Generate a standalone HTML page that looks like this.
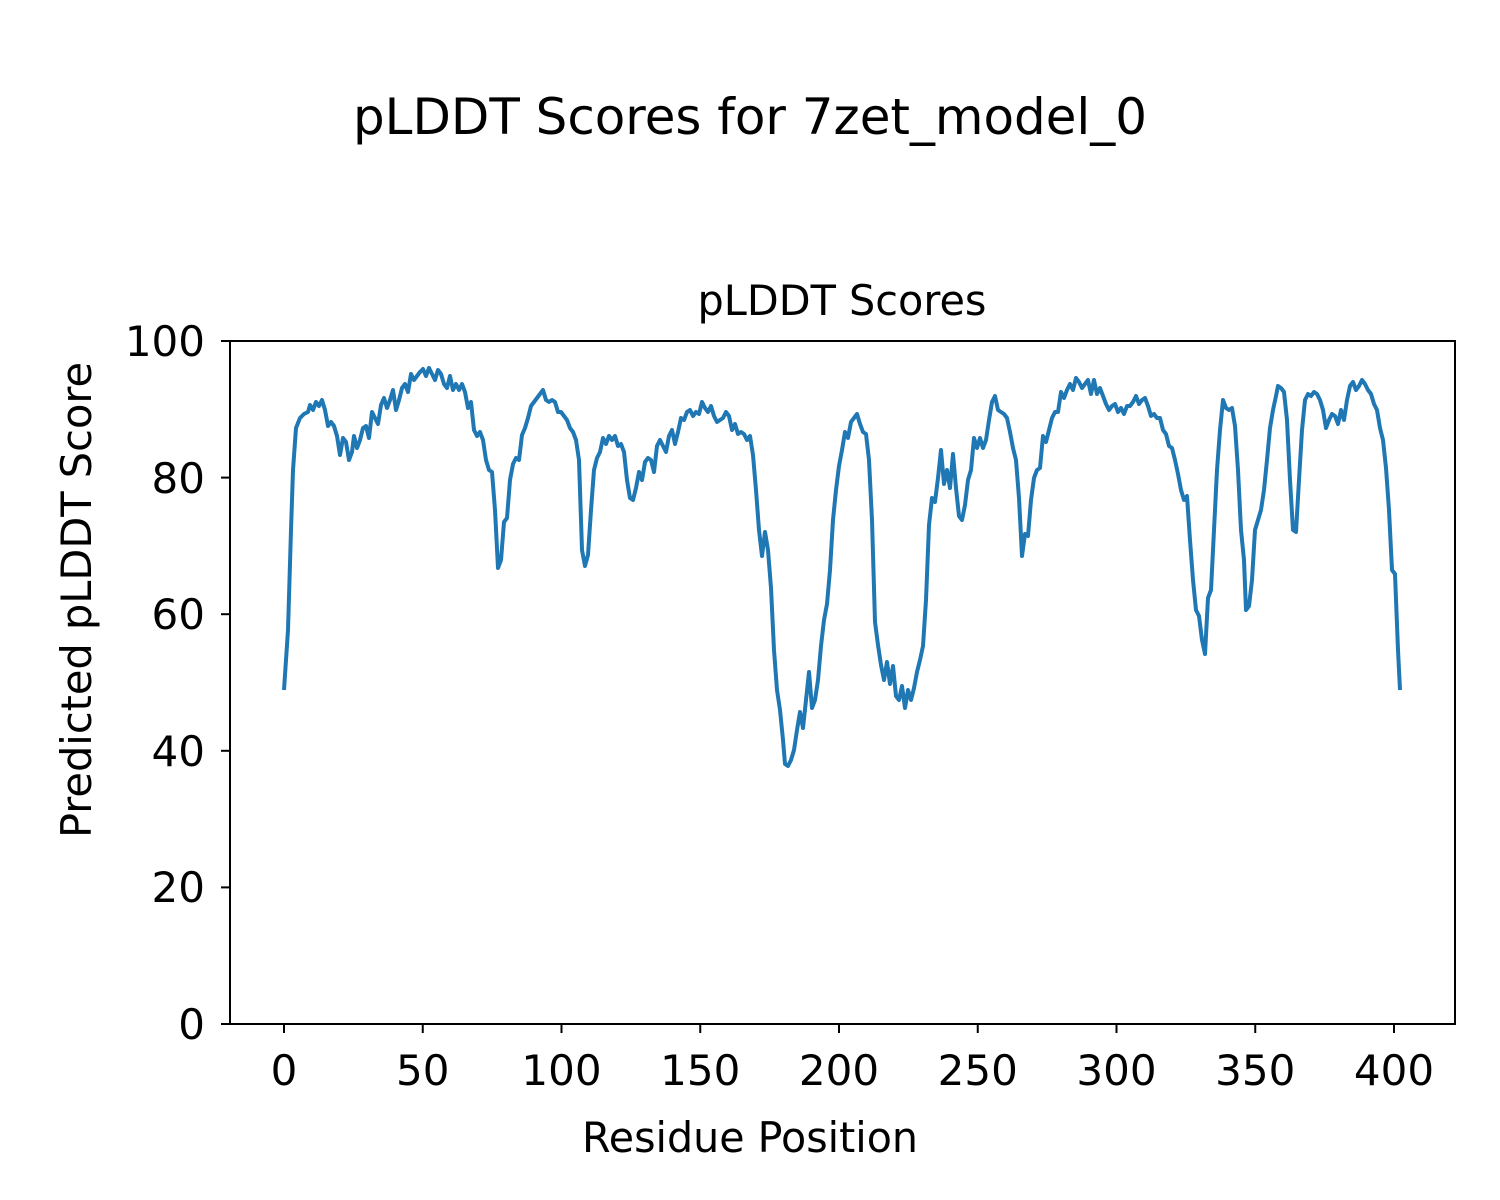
<!DOCTYPE html>
<html><head><meta charset="utf-8"><style>body{margin:0;background:#fff}svg{display:block}text{font-family:"DejaVu Sans","Liberation Sans",sans-serif;fill:#000}</style></head><body>
<svg width="1500" height="1200" viewBox="0 0 1500 1200" xmlns="http://www.w3.org/2000/svg">
<rect width="1500" height="1200" fill="#fff"/>
<text x="750" y="134" font-size="50" text-anchor="middle" textLength="794" lengthAdjust="spacingAndGlyphs">pLDDT Scores for 7zet_model_0</text>
<text x="842" y="315" font-size="42" text-anchor="middle" textLength="289" lengthAdjust="spacingAndGlyphs">pLDDT Scores</text>
<polyline fill="none" stroke="#1f77b4" stroke-width="4" stroke-linejoin="round" points="284,690 288,630 291,530 293,470 296,428 300,418 304,414 308,412 310,405 313,410 316,402 319,406 322,400 325,410 328,426 331,422 334,426 337,436 340,455 343,438 346,442 349,460 352,452 354,436 357,448 360,440 363,428 366,426 369,438 372,412 375,418 378,424 381,405 384,398 387,408 390,400 393,390 396,410 399,400 402,388 405,384 408,392 411,374 414,380 417,376 420,372 423,369 426,376 429,368 432,374 435,380 438,370 441,374 444,384 447,388 450,376 453,390 456,384 459,390 462,384 465,392 468,408 471,402 474,430 477,436 480,432 483,440 486,460 489,470 492,472 495,510 498,568 501,560 504,522 507,518 510,480 513,464 516,458 519,460 522,435 525,428 528,418 531,406 534,402 537,398 540,394 543,390 546,400 549,402 552,400 555,402 558,412 561,412 564,416 567,420 570,428 573,432 576,440 579,460 582,550 585,566 588,555 591,510 594,470 597,458 600,452 603,438 606,444 609,436 612,440 615,436 618,446 621,444 624,452 627,480 630,498 633,500 636,488 639,472 642,480 645,462 648,458 651,460 654,472 657,446 660,440 663,446 666,452 669,436 672,430 675,444 678,432 681,418 684,420 687,412 690,410 693,416 696,412 699,414 702,402 705,408 708,412 711,406 714,416 717,422 720,420 723,418 726,412 729,416 732,430 735,424 738,434 741,432 744,434 747,440 750,436 753,455 756,490 759,530 762,556 765,532 768,550 771,588 774,650 777,690 780,710 783,740 785,764 788,766 791,760 794,750 797,730 800,712 803,728 806,700 809,672 812,708 815,700 818,680 821,646 824,620 827,604 830,570 833,520 836,490 839,466 842,450 845,432 848,438 851,422 854,418 857,414 860,424 863,432 866,434 869,460 872,520 875,622 878,645 881,665 884,680 887,662 890,684 893,666 896,696 899,700 902,686 905,708 908,690 911,700 914,688 917,672 920,660 923,646 926,600 929,525 932,498 935,502 938,478 941,450 944,484 947,470 950,488 953,454 956,488 959,516 962,520 965,505 968,480 971,470 974,438 977,448 980,438 983,448 986,440 989,420 992,402 995,396 998,410 1001,412 1004,414 1007,418 1010,432 1013,448 1016,460 1019,498 1022,556 1025,534 1028,536 1031,500 1034,478 1037,470 1040,468 1043,436 1046,442 1049,430 1052,418 1055,412 1058,412 1061,392 1064,398 1067,390 1070,384 1073,390 1076,378 1079,382 1082,388 1085,384 1088,380 1091,394 1094,380 1097,394 1100,388 1103,396 1106,404 1109,410 1112,406 1115,404 1118,412 1121,408 1124,414 1127,406 1130,406 1133,402 1136,396 1139,404 1142,400 1145,398 1148,406 1151,416 1154,414 1157,418 1160,418 1163,430 1166,434 1169,446 1172,448 1175,460 1178,474 1181,490 1184,500 1187,496 1190,540 1193,580 1196,610 1199,616 1202,640 1205,654 1208,598 1211,590 1214,530 1217,470 1220,430 1223,400 1226,408 1229,410 1232,408 1235,426 1238,470 1241,530 1244,560 1246,610 1249,606 1252,580 1255,530 1258,520 1261,510 1264,490 1267,460 1270,428 1273,410 1276,396 1278,386 1281,388 1284,392 1287,420 1290,480 1293,530 1296,532 1299,480 1302,430 1305,400 1308,394 1311,396 1314,392 1317,394 1320,400 1323,410 1326,428 1329,420 1332,414 1335,416 1338,424 1341,410 1344,420 1347,400 1350,386 1353,382 1356,390 1359,386 1362,380 1365,384 1368,390 1371,394 1374,404 1377,410 1380,428 1383,440 1386,468 1389,510 1392,570 1395,574 1398,650 1400,690"/>
<rect x="230" y="341" width="1225" height="683" fill="none" stroke="#000" stroke-width="2"/>
<g stroke="#000" stroke-width="2">
<line x1="284" y1="1024" x2="284" y2="1033"/><line x1="422.75" y1="1024" x2="422.75" y2="1033"/><line x1="561.5" y1="1024" x2="561.5" y2="1033"/><line x1="700.25" y1="1024" x2="700.25" y2="1033"/><line x1="839" y1="1024" x2="839" y2="1033"/><line x1="977.75" y1="1024" x2="977.75" y2="1033"/><line x1="1116.5" y1="1024" x2="1116.5" y2="1033"/><line x1="1255.25" y1="1024" x2="1255.25" y2="1033"/><line x1="1394" y1="1024" x2="1394" y2="1033"/>
<line x1="221" y1="1024" x2="230" y2="1024"/><line x1="221" y1="887.4" x2="230" y2="887.4"/><line x1="221" y1="750.8" x2="230" y2="750.8"/><line x1="221" y1="614.2" x2="230" y2="614.2"/><line x1="221" y1="477.6" x2="230" y2="477.6"/><line x1="221" y1="341" x2="230" y2="341"/>
</g>
<g font-size="42" text-anchor="middle">
<text x="284" y="1085">0</text><text x="422.75" y="1085">50</text><text x="561.5" y="1085">100</text><text x="700.25" y="1085">150</text><text x="839" y="1085">200</text><text x="977.75" y="1085">250</text><text x="1116.5" y="1085">300</text><text x="1255.25" y="1085">350</text><text x="1394" y="1085">400</text>
</g>
<g font-size="42" text-anchor="end">
<text x="205" y="1039">0</text><text x="205" y="902">20</text><text x="205" y="766">40</text><text x="205" y="629">60</text><text x="205" y="493">80</text><text x="205" y="356">100</text>
</g>
<text x="750" y="1152" font-size="42" text-anchor="middle" textLength="336" lengthAdjust="spacingAndGlyphs">Residue Position</text>
<text transform="translate(91,600) rotate(-90)" font-size="42" text-anchor="middle" textLength="476" lengthAdjust="spacingAndGlyphs">Predicted pLDDT Score</text>
</svg>
</body></html>
